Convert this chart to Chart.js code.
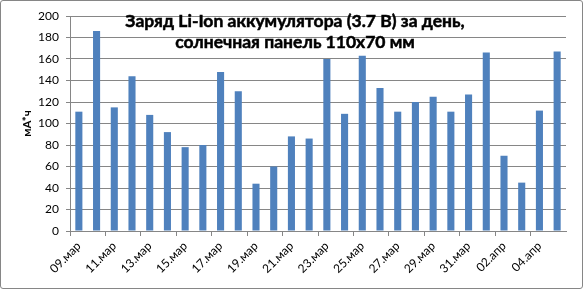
<!DOCTYPE html>
<html>
<head>
<meta charset="utf-8">
<script src="https://cdn.jsdelivr.net/npm/chart.js@4/dist/chart.umd.min.js"></script>
<style>
  html, body { margin: 0; padding: 0; background: #fff; }
  #box { width: 583px; height: 289px; box-sizing: border-box; border: 1px solid #868686; border-radius: 3px; }
  #wrap { width: 581px; height: 287px; }
</style>
</head>
<body>
<div id="box"><div id="wrap"><canvas id="c"></canvas></div></div>
<script>
/* data */
const days = [
  "09.мар", "10.мар", "11.мар", "12.мар", "13.мар", "14.мар", "15.мар", "16.мар",
  "17.мар", "18.мар", "19.мар", "20.мар", "21.мар", "22.мар", "23.мар", "24.мар",
  "25.мар", "26.мар", "27.мар", "28.мар", "29.мар", "30.мар", "31.мар",
  "01.апр", "02.апр", "03.апр", "04.апр", "05.апр"
];
const charge = [
  111, 186, 115, 144, 108, 92, 78, 80, 148, 130, 44, 60, 88, 86,
  160, 109, 163, 133, 111, 120, 125, 111, 127, 166, 70, 45, 112, 167
];
const titleLines = ["Заряд Li-Ion аккумулятора (3.7 В) за день,", "солнечная панель 110х70 мм"];
const yTitle = "мА*ч";

const grey = "#868686";
const font = "Lato, 'Open Sans', sans-serif";

// title sits over the plot area, like in Excel
const titlePlugin = {
  id: "overTitle",
  afterDraw(chart) {
    const ctx = chart.ctx;
    ctx.save();
    ctx.font = "bold 17.5px " + font;
    ctx.fillStyle = "#000";
    ctx.strokeStyle = "#000";
    ctx.lineWidth = 0.5;
    ctx.textAlign = "center";
    ctx.textBaseline = "alphabetic";
    titleLines.forEach((t, i) => {
      ctx.fillText(t, 294, 26 + i * 21);
      ctx.strokeText(t, 294, 26 + i * 21);
    });
    ctx.restore();
  }
};

new Chart(document.getElementById("c"), {
  type: "bar",
  data: {
    labels: days,
    datasets: [{
      data: charge,
      backgroundColor: "#4F81BD",
      barPercentage: 0.4,
      categoryPercentage: 1
    }]
  },
  options: {
    responsive: true,
    maintainAspectRatio: false,
    animation: false,
    layout: { padding: { top: 15, right: 16, left: 0, bottom: 0 } },
    plugins: { legend: { display: false }, tooltip: { enabled: false }, title: { display: false } },
    scales: {
      x: {
        afterFit(s) { s.height = 57; },
        grid: {
          offset: true,
          drawOnChartArea: false,
          tickLength: 5,
          tickColor: c => (c.index % 2 === 0 ? grey : "rgba(0,0,0,0)")
        },
        border: { color: grey },
        ticks: {
          autoSkip: false,
          minRotation: 45,
          maxRotation: 45,
          padding: 3,
          color: "#000",
          font: { family: font, size: 12 },
          callback: (v, i) => (i % 2 === 0 ? days[i] : "")
        }
      },
      y: {
        min: 0,
        max: 200,
        afterFit(s) { s.width = 69; },
        grid: { color: grey, tickLength: 4 },
        border: { color: grey },
        ticks: {
          stepSize: 20,
          padding: 7,
          color: "#000",
          font: { family: font, size: 12 }
        },
        title: {
          display: true,
          text: yTitle,
          color: "#000",
          font: { family: font, size: 11.5, weight: "bold" },
          padding: { top: 19, bottom: 0 }
        }
      }
    }
  },
  plugins: [titlePlugin]
});
</script>
</body>
</html>
